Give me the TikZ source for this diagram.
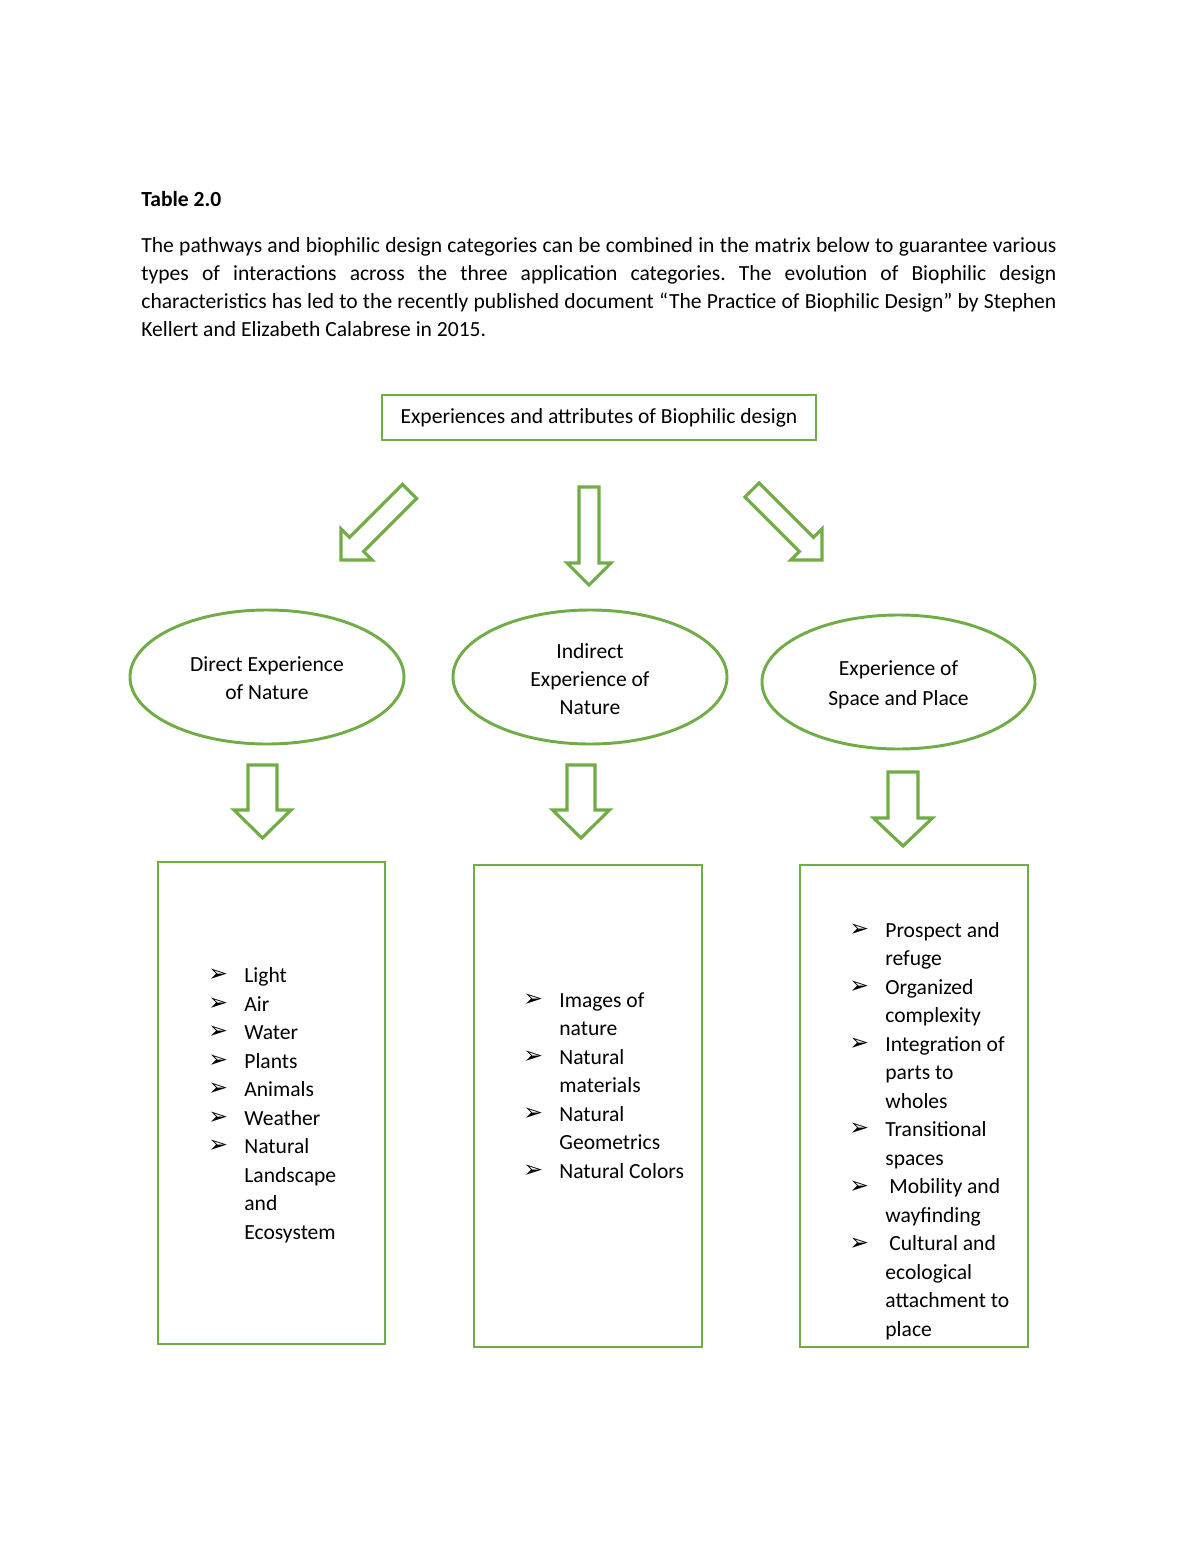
\documentclass[tikz,border=0pt]{standalone}
\usepackage{fontspec}
\setmainfont{Carlito}
\newfontfamily\symfont{DejaVu Sans}
\usetikzlibrary{shapes.geometric}
\definecolor{leaf}{HTML}{70AD47}
\newcommand\bul{\raisebox{0.3pt}{\symfont\fontsize{12}{12}\selectfont ➢}}
% #1 tail point, #2 angle, #3 length, #4 shaft half width, #5 head half width, #6 head length
\newcommand\blockarrow[6]{%
  \begin{scope}[shift={#1},rotate=#2]
    \draw[arrowline] (0,-#4) -- ({#3-#6},-#4) -- ({#3-#6},-#5) -- (#3,0) --
      ({#3-#6},#5) -- ({#3-#6},#4) -- (0,#4) -- cycle;
  \end{scope}}
\begin{document}
\begin{tikzpicture}[x=0.51pt,y=-0.51pt,
  every node/.style={inner sep=0pt, font=\fontsize{11}{14.3}\selectfont},
  panel/.style={draw=leaf, line width=1.5pt},
  oval/.style={ellipse, draw=leaf, line width=1.5pt, inner sep=0pt},
  ovaltext/.style={align=center},
  listtext/.style={anchor=base west, font=\fontsize{11}{14.54}\selectfont},
  arrowline/.style={draw=leaf, line width=1.6pt, line join=miter}]
\useasboundingbox (0,0) rectangle (1200,1553);

\node[anchor=base west, font=\bfseries\fontsize{11}{14.3}\selectfont] (title) at (141,206.7) {Table 2.0};

\node[anchor=north west, text width=466.65pt, align=justify] (para) at (141,232)
{\frenchspacing\strut The pathways and biophilic design categories can be combined in the matrix below to guarantee various\linebreak
types of interactions across the three application categories. The evolution of Biophilic design\linebreak
characteristics has led to the recently published document “The Practice of Biophilic Design” by Stephen\linebreak
Kellert and Elizabeth Calabrese in 2015.};

\node[panel, minimum width=221.34pt, minimum height=22.95pt] (top) at (599,417.5)
  {Experiences and attributes of Biophilic design};

% top block arrows
\blockarrow{(409.6,491.4)}{225}{97}{10}{22}{22}
\blockarrow{(589,487)}{-90}{98}{10}{22}{22}
\blockarrow{(752,490)}{-45}{99}{10}{22}{22}

% ellipses
\node[oval, minimum width=139.74pt, minimum height=68.34pt] (e1) at (267,677) {};
\node[ovaltext] (t1) at (267,678) {Direct Experience\\of Nature};
\node[oval, minimum width=139.74pt, minimum height=68.34pt] (e2) at (590,677) {};
\node[ovaltext] (t2) at (590,679) {Indirect\\Experience of\\Nature};
\node[oval, minimum width=139.23pt, minimum height=68.34pt] (e3) at (898.5,682) {};
\node[ovaltext, font=\fontsize{11}{15.3}\selectfont] (t3) at (898.5,685)
  {Experience of\\Space and Place};

% lower block arrows
\blockarrow{(262.5,765)}{-90}{73}{14.5}{28.5}{28}
\blockarrow{(581,765)}{-90}{73}{14}{28.5}{28}
\blockarrow{(903,772)}{-90}{74}{15}{29.5}{28}

% panels
\node[panel, minimum width=115.77pt, minimum height=245.82pt] (b1) at (271.5,1103) {};
\node[panel, minimum width=116.28pt, minimum height=245.82pt] (b2) at (588,1106) {};
\node[panel, minimum width=116.28pt, minimum height=245.82pt] (b3) at (914,1106) {};

\node[listtext] (l1) at (208,982.5) {\begin{tabular}[t]{@{}p{18.36pt}@{}l@{}}
\bul & Light\\
\bul & Air\\
\bul & Water\\
\bul & Plants\\
\bul & Animals\\
\bul & Weather\\
\bul & Natural\\
 & Landscape\\
 & and\\
 & Ecosystem
\end{tabular}};

\node[listtext] (l2) at (523,1007) {\begin{tabular}[t]{@{}p{18.36pt}@{}l@{}}
\bul & Images of\\
 & nature\\
\bul & Natural\\
 & materials\\
\bul & Natural\\
 & Geometrics\\
\bul & Natural Colors
\end{tabular}};

\node[listtext] (l3) at (849,937) {\begin{tabular}[t]{@{}p{18.36pt}@{}l@{}}
\bul & Prospect and\\
 & refuge\\
\bul & Organized\\
 & complexity\\
\bul & Integration of\\
 & parts to\\
 & wholes\\
\bul & Transitional\\
 & spaces\\
\bul & \hspace{2pt}Mobility and\\
 & wayfinding\\
\bul & \hspace{2pt}Cultural and\\
 & ecological\\
 & attachment to\\
 & place
\end{tabular}};
\end{tikzpicture}
\end{document}
